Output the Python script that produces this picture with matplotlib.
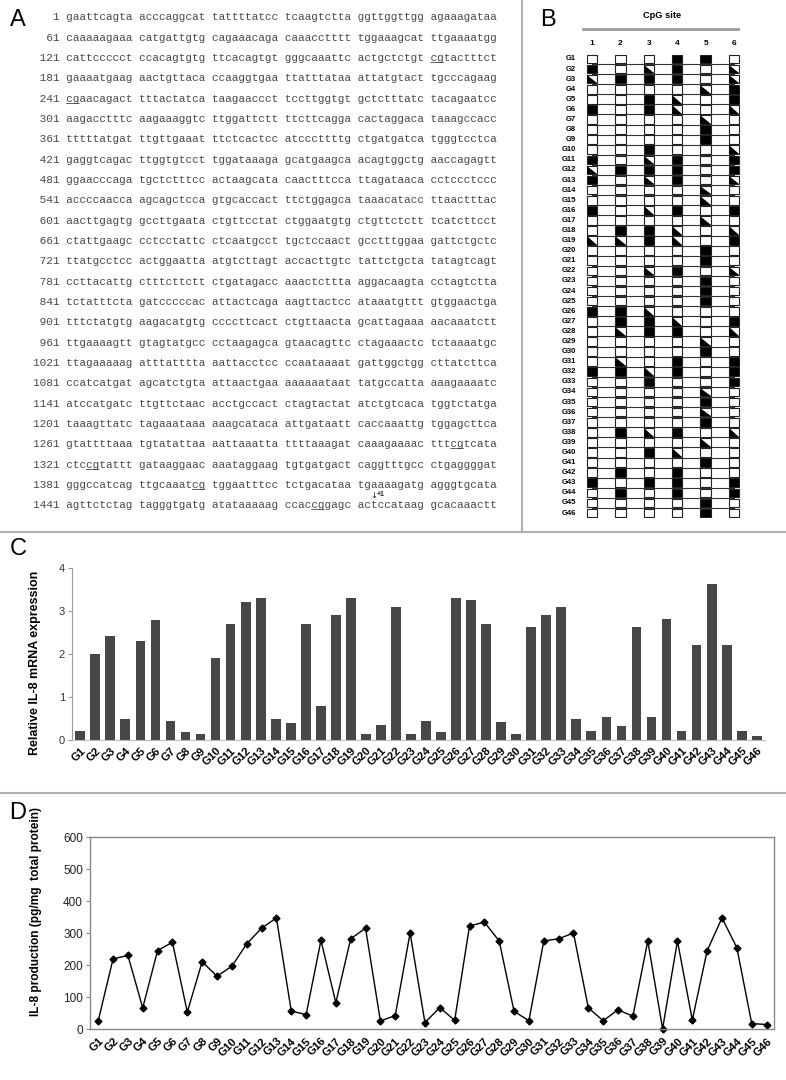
import matplotlib
matplotlib.use('Agg')
import matplotlib.pyplot as plt
from matplotlib.patches import Rectangle, Polygon
from matplotlib.lines import Line2D

plt.rcParams['font.family'] = ['Liberation Sans', 'DejaVu Sans']

# ---------------- data ----------------
line_numbers = [1, 61, 121, 181, 241, 301, 361, 421, 481, 541, 601, 661, 721,
                781, 841, 901, 961, 1021, 1081, 1141, 1201, 1261, 1321, 1381, 1441]

sequence_lines = [
    "gaattcagta acccaggcat tattttatcc tcaagtctta ggttggttgg agaaagataa",
    "caaaaagaaa catgattgtg cagaaacaga caaacctttt tggaaagcat ttgaaaatgg",
    "cattccccct ccacagtgtg ttcacagtgt gggcaaattc actgctctgt cgtactttct",
    "gaaaatgaag aactgttaca ccaaggtgaa ttatttataa attatgtact tgcccagaag",
    "cgaacagact tttactatca taagaaccct tccttggtgt gctctttatc tacagaatcc",
    "aagacctttc aagaaaggtc ttggattctt ttcttcagga cactaggaca taaagccacc",
    "tttttatgat ttgttgaaat ttctcactcc atcccttttg ctgatgatca tgggtcctca",
    "gaggtcagac ttggtgtcct tggataaaga gcatgaagca acagtggctg aaccagagtt",
    "ggaacccaga tgctctttcc actaagcata caactttcca ttagataaca cctccctccc",
    "accccaacca agcagctcca gtgcaccact ttctggagca taaacatacc ttaactttac",
    "aacttgagtg gccttgaata ctgttcctat ctggaatgtg ctgttctctt tcatcttcct",
    "ctattgaagc cctcctattc ctcaatgcct tgctccaact gcctttggaa gattctgctc",
    "ttatgcctcc actggaatta atgtcttagt accacttgtc tattctgcta tatagtcagt",
    "ccttacattg ctttcttctt ctgatagacc aaactcttta aggacaagta cctagtctta",
    "tctatttcta gatcccccac attactcaga aagttactcc ataaatgttt gtggaactga",
    "tttctatgtg aagacatgtg ccccttcact ctgttaacta gcattagaaa aacaaatctt",
    "ttgaaaagtt gtagtatgcc cctaagagca gtaacagttc ctagaaactc tctaaaatgc",
    "ttagaaaaag atttatttta aattacctcc ccaataaaat gattggctgg cttatcttca",
    "ccatcatgat agcatctgta attaactgaa aaaaaataat tatgccatta aaagaaaatc",
    "atccatgatc ttgttctaac acctgccact ctagtactat atctgtcaca tggtctatga",
    "taaagttatc tagaaataaa aaagcataca attgataatt caccaaattg tggagcttca",
    "gtattttaaa tgtatattaa aattaaatta ttttaaagat caaagaaaac tttcgtcata",
    "ctccgtattt gataaggaac aaataggaag tgtgatgact caggtttgcc ctgaggggat",
    "gggccatcag ttgcaaatcg tggaatttcc tctgacataa tgaaaagatg agggtgcata",
    "agttctctag tagggtgatg atataaaaag ccaccggagc actccataag gcacaaactt",
]

groups = ['G%d' % i for i in range(1, 47)]
cpg_sites = [1, 2, 3, 4, 5, 6]

# 0 = unmethylated, 1 = methylated, 2 = partially methylated
methylation = [
    [0, 0, 0, 1, 1, 0],  # G1
    [1, 0, 2, 1, 0, 2],  # G2
    [2, 1, 1, 1, 0, 2],  # G3
    [0, 0, 0, 0, 2, 1],  # G4
    [0, 0, 1, 2, 0, 1],  # G5
    [1, 0, 1, 2, 0, 2],  # G6
    [0, 0, 0, 0, 2, 0],  # G7
    [0, 0, 0, 0, 1, 0],  # G8
    [0, 0, 0, 0, 1, 0],  # G9
    [0, 0, 1, 0, 0, 2],  # G10
    [1, 0, 2, 1, 0, 1],  # G11
    [2, 1, 1, 1, 0, 1],  # G12
    [1, 0, 2, 1, 0, 2],  # G13
    [0, 0, 0, 0, 2, 0],  # G14
    [0, 0, 0, 0, 2, 0],  # G15
    [1, 0, 2, 1, 0, 1],  # G16
    [0, 0, 0, 0, 2, 0],  # G17
    [0, 1, 1, 2, 0, 2],  # G18
    [2, 2, 1, 2, 0, 1],  # G19
    [0, 0, 0, 0, 1, 0],  # G20
    [0, 0, 0, 0, 1, 0],  # G21
    [0, 0, 2, 1, 0, 2],  # G22
    [0, 0, 0, 0, 1, 0],  # G23
    [0, 0, 0, 0, 1, 0],  # G24
    [0, 0, 0, 0, 1, 0],  # G25
    [1, 1, 2, 0, 0, 0],  # G26
    [0, 1, 1, 2, 0, 1],  # G27
    [0, 2, 1, 1, 0, 2],  # G28
    [0, 0, 0, 0, 2, 0],  # G29
    [0, 0, 0, 0, 1, 0],  # G30
    [0, 2, 0, 1, 0, 1],  # G31
    [1, 1, 2, 1, 0, 1],  # G32
    [0, 0, 1, 0, 0, 1],  # G33
    [0, 0, 0, 0, 2, 0],  # G34
    [0, 0, 0, 0, 1, 0],  # G35
    [0, 0, 0, 0, 2, 0],  # G36
    [0, 0, 0, 0, 1, 0],  # G37
    [0, 1, 2, 1, 0, 2],  # G38
    [0, 0, 0, 0, 2, 0],  # G39
    [0, 0, 1, 2, 0, 0],  # G40
    [0, 0, 0, 0, 1, 0],  # G41
    [0, 1, 0, 1, 0, 0],  # G42
    [1, 0, 1, 1, 0, 1],  # G43
    [0, 1, 0, 1, 0, 1],  # G44
    [0, 0, 0, 0, 1, 0],  # G45
    [0, 0, 0, 0, 1, 0],  # G46
]

mrna_expression = [0.22, 2.0, 2.42, 0.5, 2.3, 2.8, 0.44, 0.19, 0.15, 1.9,
                   2.7, 3.2, 3.3, 0.5, 0.4, 2.7, 0.8, 2.9, 3.3, 0.14,
                   0.36, 3.1, 0.13, 0.44, 0.18, 3.3, 3.25, 2.7, 0.42, 0.15,
                   2.62, 2.9, 3.1, 0.5, 0.22, 0.53, 0.33, 2.62, 0.53, 2.81,
                   0.22, 2.21, 3.63, 2.21, 0.22, 0.1]

il8_protein = [25, 219, 230, 66, 245, 271, 53, 210, 165, 196,
               266, 315, 347, 56, 45, 277, 82, 282, 315, 25,
               42, 300, 20, 67, 27, 322, 334, 275, 55, 26,
               275, 282, 300, 66, 26, 60, 40, 275, 1, 275,
               28, 245, 347, 254, 17, 14]

# ---------------- figure ----------------
W, H = 786, 1080
fig = plt.figure(figsize=(W / 100, H / 100), dpi=100)


def fx(px):
    return px / W


def fy(py):
    return 1 - py / H


# separators
sep_color = '#b0b0b0'
fig.add_artist(Line2D([0, 1], [fy(532), fy(532)], color=sep_color, lw=1.5))
fig.add_artist(Line2D([fx(522), fx(522)], [fy(0), fy(532)], color=sep_color, lw=1.5))
fig.add_artist(Line2D([0, 1], [fy(793), fy(793)], color=sep_color, lw=1.5))

# panel letters
for letter, (px, py) in zip("ABCD", [(18, 20), (548, 20), (18, 549), (18, 813)]):
    fig.text(fx(px), fy(py), letter, fontsize=17, ha='center', va='center')

# ---------------- Panel A ----------------
renderer = fig.canvas.get_renderer()
seq_color = '#4a4a4a'
line_texts = []
for i, (num, seq) in enumerate(zip(line_numbers, sequence_lines)):
    s = "%4d %s" % (num, seq)
    yb = fy(17 + 20.33 * i + 3.5)
    t = fig.text(fx(33), yb, s, family='Liberation Mono', fontsize=8,
                 color=seq_color, ha='left', va='baseline')
    line_texts.append((t, s))
    ul = ''.join('_' if (s[j:j + 2] == 'cg' or (j > 0 and s[j - 1:j + 1] == 'cg')) else ' '
                 for j in range(len(s)))
    if '_' in ul:
        fig.text(fx(33), yb, ul, family='Liberation Mono', fontsize=8,
                 color='#333333', ha='left', va='baseline')

# transcription start (+1) marker
t_last, s_last = line_texts[-1]
bb = t_last.get_window_extent(renderer)
cw = bb.width / len(s_last)
idx = s_last.index('actccataag') + 2
xc = bb.x0 + (idx + 0.5) * cw
fig.text(xc / W, fy(496), '\u2193', family='DejaVu Sans', fontsize=6,
         ha='center', va='center', color='#222222')
fig.text(xc / W + fx(2.5), fy(494), '+1', fontsize=5, fontweight='bold',
         ha='left', va='center', color='#222222')

# ---------------- Panel B ----------------
fig.text(fx(662), fy(15), 'CpG site', fontsize=6.7, fontweight='bold', ha='center', va='center')
fig.add_artist(Line2D([fx(583), fx(738)], [fy(29), fy(29)], color='#999999', lw=2))

ax_b = fig.add_axes([577.8 / W, (H - 518.1) / H, 170.4 / W, 464.2 / H])
ax_b.set_xlim(0.5, 6.5)
ax_b.set_ylim(46.5, 0.5)
ax_b.axis('off')

sq_w, sq_h = 0.37, 0.86
for r in range(1, len(groups)):
    ax_b.plot([cpg_sites[0], cpg_sites[-1]], [r + 0.5, r + 0.5], color='#333333', lw=0.8, zorder=1)

for r, (g, states) in enumerate(zip(groups, methylation), start=1):
    ax_b.text(0.44, r, g, ha='right', va='center', fontsize=5.5, fontweight='bold')
    for c, st in zip(cpg_sites, states):
        x0, y0 = c - sq_w / 2, r - sq_h / 2
        face = 'black' if st == 1 else 'white'
        ax_b.add_patch(Rectangle((x0, y0), sq_w, sq_h, facecolor=face,
                                 edgecolor='#222222', lw=0.8, zorder=2))
        if st == 2:
            ax_b.add_patch(Polygon([(x0, y0), (x0, y0 + sq_h), (x0 + sq_w, y0 + sq_h)],
                                   closed=True, facecolor='black', edgecolor='none', zorder=3))

for c in cpg_sites:
    ax_b.text(c, -0.5, str(c), ha='center', va='center', fontsize=6, fontweight='bold')

# ---------------- Panel C ----------------
x = list(range(len(groups)))
ax_c = fig.add_axes([72 / W, 340 / H, 693 / W, 172 / H])
ax_c.bar(x, mrna_expression, width=0.65, color='#474747')
ax_c.set_xlim(-0.55, 45.55)
ax_c.set_ylim(0, 4)
ax_c.set_yticks([0, 1, 2, 3, 4])
ax_c.tick_params(axis='y', labelsize=8, length=3, color='#999999', labelcolor='#333333', pad=2)
ax_c.set_xticks(x)
ax_c.set_xticklabels(groups, rotation=45, ha='right', rotation_mode='anchor',
                     fontsize=8, fontweight='bold')
ax_c.tick_params(axis='x', length=0, pad=4)
for s in ['top', 'right']:
    ax_c.spines[s].set_visible(False)
ax_c.spines['left'].set_color('#999999')
ax_c.spines['bottom'].set_color('#bbbbbb')
ax_c.set_ylabel('Relative IL-8 mRNA expression', fontsize=9, fontweight='bold')
ax_c.yaxis.set_label_coords(-0.045, 0.45)

# ---------------- Panel D ----------------
ax_d = fig.add_axes([90 / W, 51 / H, 684 / W, 192 / H])
ax_d.plot(x, il8_protein, color='black', lw=1, marker='D', ms=3.5, clip_on=False)
ax_d.set_xlim(-0.55, 45.5)
ax_d.set_ylim(0, 600)
ax_d.set_yticks([0, 100, 200, 300, 400, 500, 600])
ax_d.tick_params(axis='y', labelsize=8.5, length=3, color='#888888', labelcolor='#222222', pad=2)
ax_d.set_xticks(x)
ax_d.set_xticklabels(groups, rotation=45, ha='right', rotation_mode='anchor',
                     fontsize=8, fontweight='bold')
ax_d.tick_params(axis='x', length=0, pad=5)
for s in ax_d.spines.values():
    s.set_color('#888888')
    s.set_linewidth(1)
ax_d.set_ylabel('IL-8 production (pg/mg  total protein)', fontsize=8.6, fontweight='bold')
ax_d.yaxis.set_label_coords(-0.070, 0.61)

fig.savefig('out.png', dpi=100)
